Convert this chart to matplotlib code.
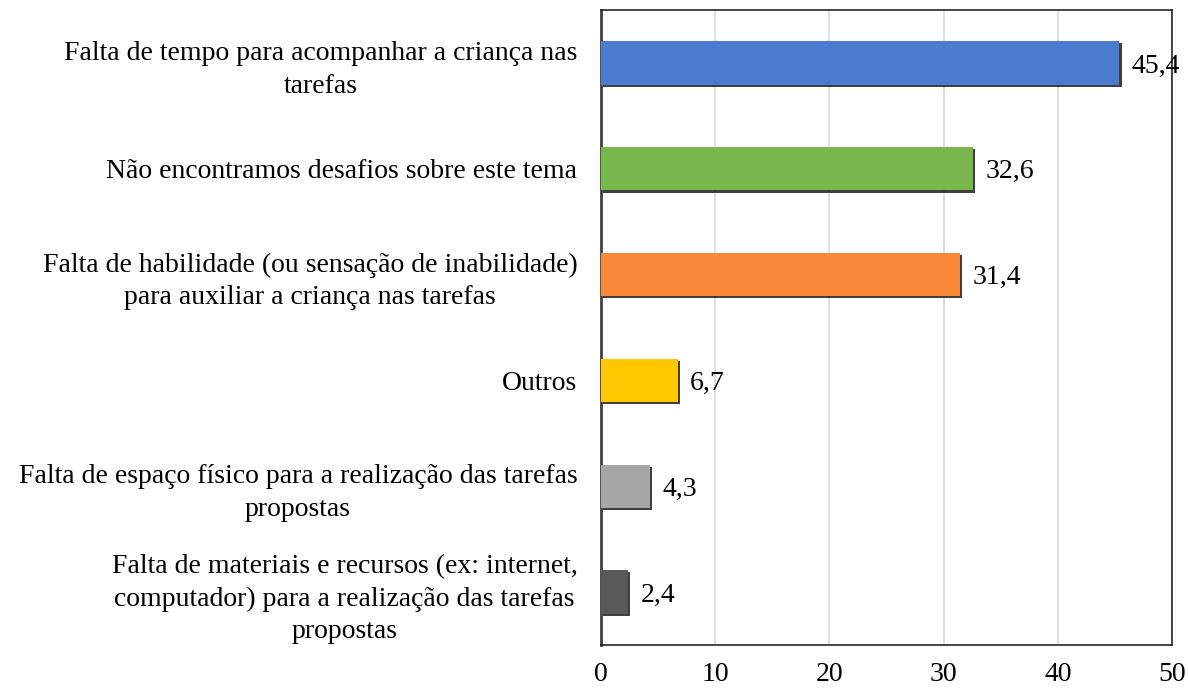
import matplotlib
matplotlib.use("Agg")
import matplotlib.pyplot as plt
import matplotlib.patheffects as pe

categories = [
    "Falta de tempo para acompanhar a criança nas\ntarefas",
    "Não encontramos desafios sobre este tema",
    "Falta de habilidade (ou sensação de inabilidade)\npara auxiliar a criança nas tarefas",
    "Outros",
    "Falta de espaço físico para a realização das tarefas\npropostas",
    "Falta de materiais e recursos (ex: internet,\ncomputador) para a realização das tarefas\npropostas",
]
values = [45.4, 32.6, 31.4, 6.7, 4.3, 2.4]
colors = ["#4A7BCF", "#78B64E", "#F98838", "#FFC800", "#A6A6A6", "#595959"]
xticks = [0, 10, 20, 30, 40, 50]

plt.rcParams['font.family'] = ['Liberation Serif', 'DejaVu Serif']

fig = plt.figure(figsize=(11.88, 6.88), dpi=100)
ax = fig.add_axes([601/1188, 1-645/688, (1172-601)/1188, (645-10)/688])

ypos = list(range(len(categories)))
bars = ax.barh(ypos, values, height=0.41, color=colors, zorder=3,
               edgecolor=None, linewidth=0)
for b in bars:
    b.set_path_effects([pe.SimplePatchShadow(offset=(1.5, -1.5), shadow_rgbFace='black', alpha=0.75),
                        pe.Normal()])

for y, v in zip(ypos, values):
    ax.annotate(f"{v:.1f}".replace('.', ','), xy=(v, y), xytext=(9, 0),
                textcoords='offset points', va='center_baseline', ha='left', fontsize=20, zorder=4)

ax.set_ylim(len(categories) - 0.5, -0.5)
ax.set_xlim(0, 50)
ax.set_xticks(xticks)
ax.set_xticklabels([str(t) for t in xticks])
ax.set_yticks(ypos)
ax.set_yticklabels(categories)
for lab in ax.get_yticklabels():
    lab.set_multialignment('center')
    lab.set_linespacing(1.4)
ax.tick_params(axis='both', length=0, labelsize=20)
ax.tick_params(axis='y', pad=17)
ax.tick_params(axis='x', pad=12)
ax.xaxis.grid(True, color='#D9D9D9', linewidth=1.2, zorder=0)
ax.set_axisbelow(True)
for name, sp in ax.spines.items():
    sp.set_color('#262626')
    sp.set_linewidth(1.2)
ax.spines['left'].set_color('#404040')
ax.spines['left'].set_linewidth(2)

fig.savefig("out.png", dpi=100)
